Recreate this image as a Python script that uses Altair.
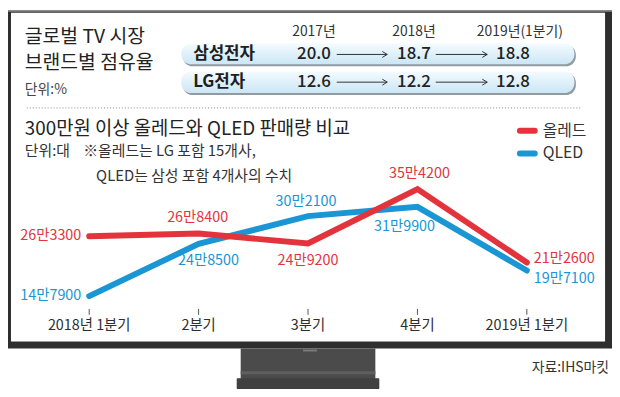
import altair as alt
import pandas as pd

# ---- data ----
quarters = ["2018년 1분기", "2분기", "3분기", "4분기", "2019년 1분기"]
oled = [263300, 268400, 249200, 354200, 212600]
qled = [147900, 248500, 302100, 319900, 197100]
series_names = ["올레드", "QLED"]
share_years = ["2017년", "2018년", "2019년(1분기)"]
share_companies = ["삼성전자", "LG전자"]
samsung_share = [20.0, 18.7, 18.8]
lg_share = [12.6, 12.2, 12.8]

RED = "#e3343d"
BLUE = "#1a96d4"
KR = "Noto Sans CJK KR"
NUM = "Liberation Sans Narrow, Noto Sans CJK KR"


def man(v):
    return f"{v // 10000}만{v % 10000}"


rows = []
for s, vals in zip(series_names, [oled, qled]):
    for i, (q, v) in enumerate(zip(quarters, vals)):
        rows.append({"series": s, "quarter": q, "idx": i, "value": v, "label": man(v)})
df = pd.DataFrame(rows)

one = pd.DataFrame({"k": [0]})

xs = alt.Scale(type="point", domain=quarters, range=[82, 524], padding=0)
ys = alt.Scale(domain=[100000, 400000], range=[314.1, 157.0])


def box(x1, x2, y1, y2, **kw):
    return alt.Chart(one).mark_rect(**kw).encode(
        x=alt.value(x1), x2=alt.value(x2), y=alt.value(y1), y2=alt.value(y2))


def txt(s, x, y, size=14, color="#333333", align="left", font=KR, weight="normal"):
    return alt.Chart(pd.DataFrame({"t": [s]})).mark_text(
        align=align, baseline="middle", fontSize=size, font=font,
        color=color, fontWeight=weight).encode(
        x=alt.value(x), y=alt.value(y), text="t:N")


layers = []
# TV frame
layers.append(box(0, 610, 0, 342, color="#2e2e2e"))
layers.append(box(0, 610, 0, 2, color="#8a8a8a"))
layers.append(box(3, 603, 3, 335, color="white"))
# stand
layers.append(box(235, 371, 342, 373, color="#4b4b4b"))
layers.append(box(235, 371, 365, 368, color="#5f5f5f"))
layers.append(box(231, 375, 372, 383, color="#404040", cornerRadius=1))
layers.append(box(298, 312, 343, 345, color="#7a7a7a"))

# top section
layers.append(txt("글로벌 TV 시장", 17, 27, 19.5, color="#222222"))
layers.append(txt("브랜드별 점유율", 17, 54, 19.5, color="#222222"))
layers.append(txt("단위:%", 17, 81, 14, color="#444444"))

grad = alt.LinearGradient(
    gradient="linear",
    stops=[alt.GradientStop(color="#f4fbff", offset=0),
           alt.GradientStop(color="#cbe6f5", offset=1)],
    x1=0, x2=0, y1=0, y2=1)

col_x = [309, 410, 510]
head_x = [309, 410, 517]
row_y = [45, 73]
pill_y = [(34, 55), (62, 84)]
for (y1, y2) in pill_y:
    layers.append(box(176.5, 573.5, y1 + 1.5, y2 + 2, color="#8f9aa2", cornerRadius=10))
    layers.append(box(175, 572, y1, y2, fill=grad, cornerRadius=10))

for yr, hx in zip(share_years, head_x):
    layers.append(txt(yr, hx, 22, 14, color="#333333", align="center", font=NUM))

for comp, vals, ry in zip(share_companies, [samsung_share, lg_share], row_y):
    layers.append(txt(comp, 187, ry, 17, color="#1e1e1e", weight=600))
    for v, cx in zip(vals, col_x):
        layers.append(txt(f"{v:.1f}", cx, ry, 17, color="#222222", align="center", font=NUM, weight=500))
    for a1, a2 in [(332, 383), (432, 484)]:
        layers.append(alt.Chart(one).mark_rule(color="#333333", strokeWidth=1).encode(
            x=alt.value(a1), x2=alt.value(a2), y=alt.value(ry)))
        layers.append(alt.Chart(one).mark_point(
            shape="M-1,-0.6L0,0L-1,0.6", filled=False, size=100,
            strokeWidth=1, color="#333333", opacity=1).encode(
            x=alt.value(a2), y=alt.value(ry)))

# dotted separator
layers.append(alt.Chart(one).mark_rule(color="#888888", strokeWidth=1, strokeDash=[1, 2]).encode(
    x=alt.value(19), x2=alt.value(580), y=alt.value(99)))

# second section titles
layers.append(txt("300만원 이상 올레드와 QLED 판매량 비교", 17, 120, 19, color="#222222"))
layers.append(txt("단위:대", 17, 143, 15, color="#333333"))
layers.append(txt("※올레드는 LG 포함 15개사,", 76, 143, 15, color="#333333"))
layers.append(txt("QLED는 삼성 포함 4개사의 수치", 89, 168, 15, color="#333333"))

# legend
for name, col, ly in [("올레드", RED, 122), ("QLED", BLUE, 145)]:
    layers.append(alt.Chart(one).mark_rule(color=col, strokeWidth=6, strokeCap="round").encode(
        x=alt.value(517), x2=alt.value(532), y=alt.value(ly)))
    layers.append(txt(name, 540, ly, 16, color="#333333"))

# x ticks and labels
qdf = pd.DataFrame({"quarter": quarters})
layers.append(alt.Chart(qdf).mark_rule(color="#555555", strokeWidth=1).encode(
    x=alt.X("quarter:N", scale=xs, axis=None), y=alt.value(302), y2=alt.value(308)))
layers.append(alt.Chart(qdf).mark_text(
    baseline="middle", align="center", fontSize=14.5, font=NUM, color="#2e2e2e").encode(
    x=alt.X("quarter:N", scale=xs, axis=None), y=alt.value(319), text="quarter:N"))

# lines
base = alt.Chart(df).encode(
    x=alt.X("quarter:N", scale=xs, axis=None),
    y=alt.Y("value:Q", scale=ys, axis=None),
    order="idx:Q")
layers.append(base.transform_filter(alt.datum.series == "QLED").mark_line(
    color=BLUE, strokeWidth=6, strokeCap="round", strokeJoin="miter"))
layers.append(base.transform_filter(alt.datum.series == "올레드").mark_line(
    color=RED, strokeWidth=6, strokeCap="round", strokeJoin="miter"))

# point labels: (align, dx, dy) per series and quarter index
placement = {
    "올레드": [("right", -8, 0), ("center", -1, -16), ("center", 0, 18), ("center", 2, -15), ("left", 7, -4)],
    "QLED": [("right", -8, 0), ("center", 10, 17), ("center", -2, -14), ("center", -13, 20), ("left", 7, 9)],
}
for s, col in [("올레드", RED), ("QLED", BLUE)]:
    for i, (al, dx, dy) in enumerate(placement[s]):
        layers.append(alt.Chart(df).transform_filter(
            (alt.datum.series == s) & (alt.datum.idx == i)).mark_text(
            align=al, baseline="middle", dx=dx, dy=dy, fontSize=14.5, font=NUM, color=col).encode(
            x=alt.X("quarter:N", scale=xs, axis=None),
            y=alt.Y("value:Q", scale=ys, axis=None),
            text="label:N"))

# source
layers.append(txt("자료:IHS마킷", 607, 362, 14, color="#333333", align="right"))

chart = alt.layer(*layers).properties(
    width=610, height=383, padding=0, autosize="none", background="white"
).configure_view(stroke=None)

chart.save("out.html", embed_options={"renderer": "svg", "actions": False})
